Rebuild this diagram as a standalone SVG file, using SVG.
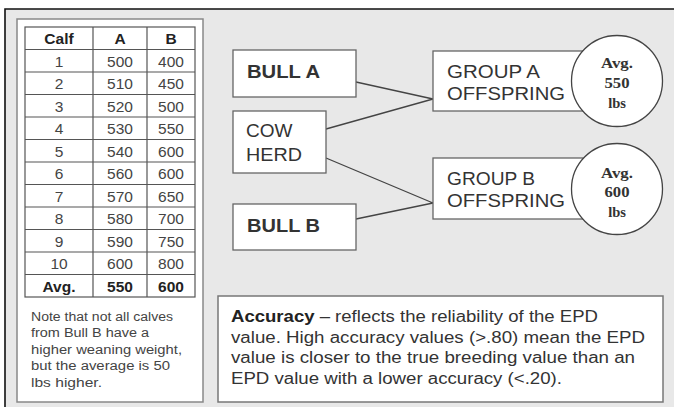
<svg xmlns="http://www.w3.org/2000/svg" width="674" height="407" viewBox="0 0 674 407">
<style>
.box{fill:#fff;stroke:#666;stroke-width:1.3}
.grid{stroke:#555;stroke-width:1.2;fill:none}
.td{font-family:"Liberation Sans",Arial,sans-serif;font-size:15.5px;fill:#444;text-anchor:middle}
.tb{font-family:"Liberation Sans",Arial,sans-serif;font-size:15.5px;font-weight:bold;fill:#222;text-anchor:middle}
.n{font-family:"Liberation Sans",Arial,sans-serif;font-size:12.5px;fill:#444}
.big{font-family:"Liberation Sans",Arial,sans-serif;font-size:19px;fill:#333}
.bigb{font-family:"Liberation Sans",Arial,sans-serif;font-size:19px;font-weight:bold;fill:#333}
.c{font-family:"Liberation Serif","Times New Roman",serif;font-size:14.5px;font-weight:bold;fill:#333;text-anchor:middle}
.acc{font-family:"Liberation Sans",Arial,sans-serif;font-size:16px;fill:#333}
.conn{stroke:#444;stroke-width:1.3;fill:none}
</style>
<rect x="0" y="0" width="674" height="407" fill="#fff"/>
<rect x="5" y="9" width="669" height="398" fill="#e8e8e8"/>
<path d="M5 407 V9 H674" fill="none" stroke="#111" stroke-width="1.6"/>

<g id="table-panel">
<rect x="17" y="19" width="186" height="383" fill="#fff" stroke="#888" stroke-width="1.5"/>
<rect x="25" y="27" width="170" height="270" class="grid" stroke-width="1.5"/>
<path class="grid" d="M93 27V297M147 27V297M25 49.5H195M25 72H195M25 94.5H195M25 117H195M25 139.5H195M25 162H195M25 184.5H195M25 207H195M25 229.5H195M25 252H195M25 274.5H195"/>
<text class="tb" x="59" y="44">Calf</text><text class="tb" x="120" y="44">A</text><text class="tb" x="171" y="44">B</text>
<text class="td" x="59" y="66.5">1</text><text class="td" x="120" y="66.5">500</text><text class="td" x="171" y="66.5">400</text>
<text class="td" x="59" y="89">2</text><text class="td" x="120" y="89">510</text><text class="td" x="171" y="89">450</text>
<text class="td" x="59" y="111.5">3</text><text class="td" x="120" y="111.5">520</text><text class="td" x="171" y="111.5">500</text>
<text class="td" x="59" y="134">4</text><text class="td" x="120" y="134">530</text><text class="td" x="171" y="134">550</text>
<text class="td" x="59" y="156.5">5</text><text class="td" x="120" y="156.5">540</text><text class="td" x="171" y="156.5">600</text>
<text class="td" x="59" y="179">6</text><text class="td" x="120" y="179">560</text><text class="td" x="171" y="179">600</text>
<text class="td" x="59" y="201.5">7</text><text class="td" x="120" y="201.5">570</text><text class="td" x="171" y="201.5">650</text>
<text class="td" x="59" y="224">8</text><text class="td" x="120" y="224">580</text><text class="td" x="171" y="224">700</text>
<text class="td" x="59" y="246.5">9</text><text class="td" x="120" y="246.5">590</text><text class="td" x="171" y="246.5">750</text>
<text class="td" x="59" y="269">10</text><text class="td" x="120" y="269">600</text><text class="td" x="171" y="269">800</text>
<text class="tb" x="59" y="291.5">Avg.</text><text class="tb" x="120" y="291.5">550</text><text class="tb" x="171" y="291.5">600</text>
<text class="n" x="31" y="321" textLength="142" lengthAdjust="spacingAndGlyphs">Note that not all calves</text>
<text class="n" x="31" y="337" textLength="118" lengthAdjust="spacingAndGlyphs">from Bull B have a</text>
<text class="n" x="31" y="353.5" textLength="151" lengthAdjust="spacingAndGlyphs">higher weaning weight,</text>
<text class="n" x="31" y="370" textLength="139" lengthAdjust="spacingAndGlyphs">but the average is 50</text>
<text class="n" x="31" y="386.5" textLength="71" lengthAdjust="spacingAndGlyphs">lbs higher.</text>
</g>

<g id="connectors">
<path class="conn" d="M356 82L433 99M326 129L433 99M326 158L433 203M356 219L433 203"/>
</g>

<g id="bull-a">
<rect class="box" x="233" y="50" width="123" height="47"/>
<text class="bigb" x="247" y="78" textLength="73" lengthAdjust="spacingAndGlyphs">BULL A</text>
</g>
<g id="cow-herd">
<rect class="box" x="233" y="111" width="93" height="62"/>
<text class="big" x="246" y="137">COW</text>
<text class="big" x="246" y="161" textLength="56" lengthAdjust="spacingAndGlyphs">HERD</text>
</g>
<g id="bull-b">
<rect class="box" x="233" y="204" width="123" height="46"/>
<text class="bigb" x="247" y="232" textLength="73" lengthAdjust="spacingAndGlyphs">BULL B</text>
</g>
<g id="group-a">
<rect class="box" x="433" y="51" width="150" height="60"/>
<text class="big" x="447" y="78" textLength="93" lengthAdjust="spacingAndGlyphs">GROUP A</text>
<text class="big" x="447" y="100" textLength="118" lengthAdjust="spacingAndGlyphs">OFFSPRING</text>
</g>
<g id="avg-a">
<circle cx="617" cy="81" r="45.5" fill="#fff" stroke="#444" stroke-width="1.3"/>
<text class="c" x="617" y="68" textLength="32" lengthAdjust="spacingAndGlyphs">Avg.</text>
<text class="c" x="617" y="88" textLength="25" lengthAdjust="spacingAndGlyphs">550</text>
<text class="c" x="617" y="107.5">lbs</text>
</g>
<g id="group-b">
<rect class="box" x="433" y="158" width="150" height="61"/>
<text class="big" x="447" y="185" textLength="88" lengthAdjust="spacingAndGlyphs">GROUP B</text>
<text class="big" x="447" y="207" textLength="118" lengthAdjust="spacingAndGlyphs">OFFSPRING</text>
</g>
<g id="avg-b">
<circle cx="617" cy="189" r="45.5" fill="#fff" stroke="#444" stroke-width="1.3"/>
<text class="c" x="617" y="177.5" textLength="32" lengthAdjust="spacingAndGlyphs">Avg.</text>
<text class="c" x="617" y="197" textLength="25" lengthAdjust="spacingAndGlyphs">600</text>
<text class="c" x="617" y="216.5">lbs</text>
</g>

<g id="accuracy">
<rect x="218" y="296" width="445" height="106" fill="#fff" stroke="#777" stroke-width="1.5"/>
<text class="acc" x="231" y="322" textLength="367" lengthAdjust="spacingAndGlyphs"><tspan font-weight="bold" fill="#222">Accuracy</tspan> – reflects the reliability of the EPD</text>
<text class="acc" x="231" y="342.5" textLength="414" lengthAdjust="spacingAndGlyphs">value. High accuracy values (&gt;.80) mean the EPD</text>
<text class="acc" x="231" y="363" textLength="404" lengthAdjust="spacingAndGlyphs">value is closer to the true breeding value than an</text>
<text class="acc" x="231" y="383.5" textLength="331" lengthAdjust="spacingAndGlyphs">EPD value with a lower accuracy (&lt;.20).</text>
</g>
</svg>
